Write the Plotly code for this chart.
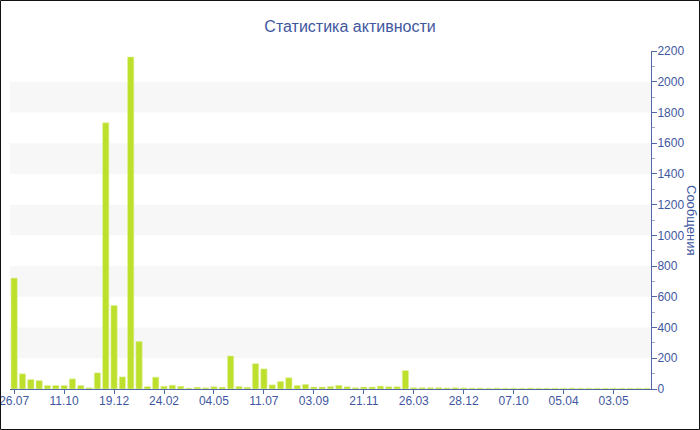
import plotly.graph_objects as go

title_text = "Статистика активности"
y_title = "Сообщения"

tick_labels = ["26.07", "11.10", "19.12", "24.02", "04.05", "11.07", "03.09",
               "21.11", "26.03", "28.12", "07.10", "05.04", "03.05"]
label_step = 6

values = [722, 99, 62, 55, 23, 23, 23, 66, 23, 8,
          105, 1733, 544, 79, 2161, 310, 16, 77, 18, 25,
          18, 6, 12, 8, 15, 12, 215, 17, 12, 165,
          131, 27, 49, 73, 23, 30, 13, 13, 17, 24,
          15, 9, 13, 13, 19, 15, 15, 120, 9, 9,
          9, 9, 7, 9, 7, 6, 6, 5, 6, 5,
          5, 5, 6, 5, 5, 5, 5, 6, 5, 5,
          5, 5, 5, 5, 5, 5, 5]

bands = [(200, 400), (600, 800), (1000, 1200), (1400, 1600), (1800, 2000)]

idx = list(range(len(values)))
tickvals = [i * label_step for i in range(len(tick_labels))]

TEXT = "#3f57a0"
AXIS = "#5068a8"
FONT = "Liberation Sans"

W, H = 700, 430
L, R, T, B = 10, 49, 51, 41
pw, ph = W - L - R, H - T - B

fig = go.Figure()
fig.add_trace(go.Bar(
    x=idx, y=values,
    marker=dict(color="#bde02c", line=dict(color="#e4f2a8", width=0.6)),
    hoverinfo="y",
))

shapes = []
for lo, hi in bands:
    shapes.append(dict(type="rect", xref="paper", yref="y", x0=0, x1=1, y0=lo, y1=hi,
                       fillcolor="#f7f7f7", line=dict(width=0), layer="below"))
# chart border
shapes.append(dict(type="rect", xref="paper", yref="paper",
                   x0=(0.5 - L) / pw, x1=1 + (R - 0.5) / pw,
                   y0=-(B - 0.5) / ph, y1=1 + (T - 0.5) / ph,
                   line=dict(color="#111111", width=1), fillcolor="rgba(0,0,0,0)"))

fig.update_layout(
    width=W, height=H,
    margin=dict(l=L, r=R, t=T, b=B, pad=0, autoexpand=False),
    paper_bgcolor="white", plot_bgcolor="white",
    showlegend=False,
    bargap=0.24,
    font=dict(family=FONT, size=12, color=TEXT),
    title=dict(text=title_text, x=0.5, xanchor="center", y=1 - 26 / H, yanchor="middle",
               yref="container", font=dict(family=FONT, size=16, color=TEXT)),
    shapes=shapes,
    xaxis=dict(
        range=[-0.5, len(values) - 0.5],
        tickmode="array", tickvals=tickvals, ticktext=tick_labels,
        ticks="outside", ticklen=4, tickcolor=AXIS, tickwidth=1,
        ticklabelstandoff=-3,
        showline=True, linecolor=AXIS, linewidth=1,
        showgrid=False, zeroline=False, automargin=False,
        ticklabeloverflow="allow",
        tickfont=dict(family=FONT, size=12, color=TEXT),
    ),
    yaxis=dict(
        side="right", range=[0, 2200], dtick=200, tick0=0,
        ticks="outside", ticklen=5, tickcolor=AXIS, tickwidth=1,
        ticklabelstandoff=-2,
        minor=dict(dtick=100, ticks="outside", ticklen=3, tickcolor="#a0a8c8", showgrid=False),
        showline=True, linecolor=AXIS, linewidth=1,
        showgrid=False, zeroline=False, automargin=False,
        ticklabeloverflow="allow",
        tickfont=dict(family=FONT, size=12, color=TEXT),
    ),
    annotations=[dict(text=y_title, xref="paper", yref="paper",
                      x=(692 - L) / pw, y=0.5, xanchor="center", yanchor="middle",
                      textangle=90, showarrow=False,
                      font=dict(family=FONT, size=13, color=TEXT))],
)

fig.write_html("out.html",
               config={"displayModeBar": False},
               post_script="document.body.style.margin='0';document.body.style.overflow='hidden';")
